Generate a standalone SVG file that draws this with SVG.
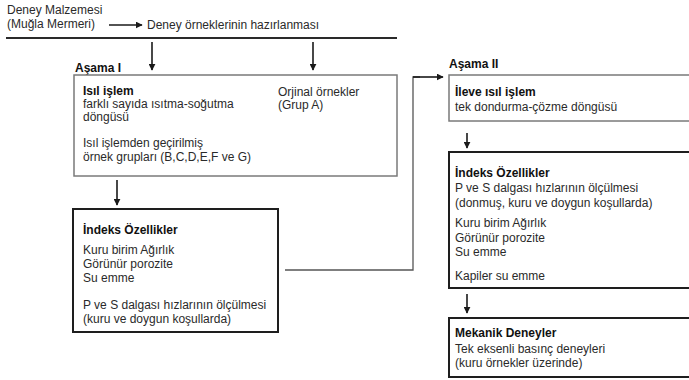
<svg xmlns="http://www.w3.org/2000/svg" width="689" height="380" viewBox="0 0 689 380">
<defs>
<marker id="ah" viewBox="0 0 10 10" refX="9" refY="5" markerWidth="7" markerHeight="7" markerUnits="userSpaceOnUse" orient="auto"><path d="M0,0 L10,5 L0,10 z" fill="#1a1a1a"/></marker>
<style>
text{font-family:"Liberation Sans",Arial,sans-serif;font-size:12px;fill:#2a2a2a}
.b{font-weight:bold;fill:#111}
.light{fill:none;stroke:#7a7a7a;stroke-width:1.5}
.dark{fill:none;stroke:#1e1e1e;stroke-width:2}
.c{fill:none;stroke:#1a1a1a;stroke-width:1.6;marker-end:url(#ah)}
.l{fill:none;stroke:#555;stroke-width:1.3}
</style>
</defs>
<rect width="689" height="380" fill="#fff"/>
<g id="header">
<text x="7" y="14">Deney Malzemesi</text>
<text x="7" y="28">(Muğla Mermeri)</text>
<text x="147" y="29">Deney örneklerinin hazırlanması</text>
<line x1="6" y1="38" x2="397" y2="38" stroke="#2a2a2a" stroke-width="2"/>
<text class="b" x="75" y="72">Aşama I</text>
<text class="b" x="449" y="68">Aşama II</text>
</g>
<g id="asama1">
<rect class="light" x="74" y="75" width="323" height="101"/>
<text class="b" x="83" y="95">Isıl işlem</text>
<text x="83" y="108">farklı sayıda ısıtma-soğutma</text>
<text x="83" y="121">döngüsü</text>
<text x="83" y="147">Isıl işlemden geçirilmiş</text>
<text x="83" y="161">örnek grupları (B,C,D,E,F ve G)</text>
<text x="278" y="96">Orjinal örnekler</text>
<text x="278" y="109">(Grup A)</text>
</g>
<g id="indeks1">
<rect class="dark" x="73" y="209" width="205" height="123"/>
<text class="b" x="83" y="234">İndeks Özellikler</text>
<text x="83" y="254">Kuru birim Ağırlık</text>
<text x="83" y="268">Görünür porozite</text>
<text x="83" y="282">Su emme</text>
<text x="83" y="309">P ve S dalgası hızlarının ölçülmesi</text>
<text x="83" y="323">(kuru ve doygun koşullarda)</text>
</g>
<g id="ileve">
<rect class="light" x="449" y="75" width="260" height="46"/>
<text class="b" x="455" y="96">İleve ısıl işlem</text>
<text x="455" y="111">tek dondurma-çözme döngüsü</text>
</g>
<g id="indeks2">
<rect class="dark" x="449" y="152" width="260" height="136"/>
<text class="b" x="455" y="177">İndeks Özellikler</text>
<text x="455" y="192">P ve S dalgası hızlarının ölçülmesi</text>
<text x="455" y="207">(donmuş, kuru ve doygun koşullarda)</text>
<text x="455" y="227">Kuru birim Ağırlık</text>
<text x="455" y="242">Görünür porozite</text>
<text x="455" y="256">Su emme</text>
<text x="455" y="280">Kapiler su emme</text>
</g>
<g id="mekanik">
<rect class="dark" x="449" y="318" width="260" height="59"/>
<text class="b" x="455" y="337">Mekanik Deneyler</text>
<text x="455" y="353">Tek eksenli basınç deneyleri</text>
<text x="455" y="367">(kuru örnekler üzerinde)</text>
</g>
<g id="connectors">
<line class="c" x1="109" y1="25" x2="142" y2="25"/>
<line class="c" x1="152" y1="42" x2="152" y2="70"/>
<line class="c" x1="313" y1="42" x2="313" y2="70"/>
<line class="c" x1="117" y1="180" x2="117" y2="205"/>
<path class="l" d="M285,270 H413 V77 H420"/>
<line class="c" x1="413" y1="77" x2="443" y2="77"/>
<line class="c" x1="467" y1="133" x2="467" y2="148"/>
<line class="c" x1="467" y1="294" x2="467" y2="313"/>
</g>
</svg>
